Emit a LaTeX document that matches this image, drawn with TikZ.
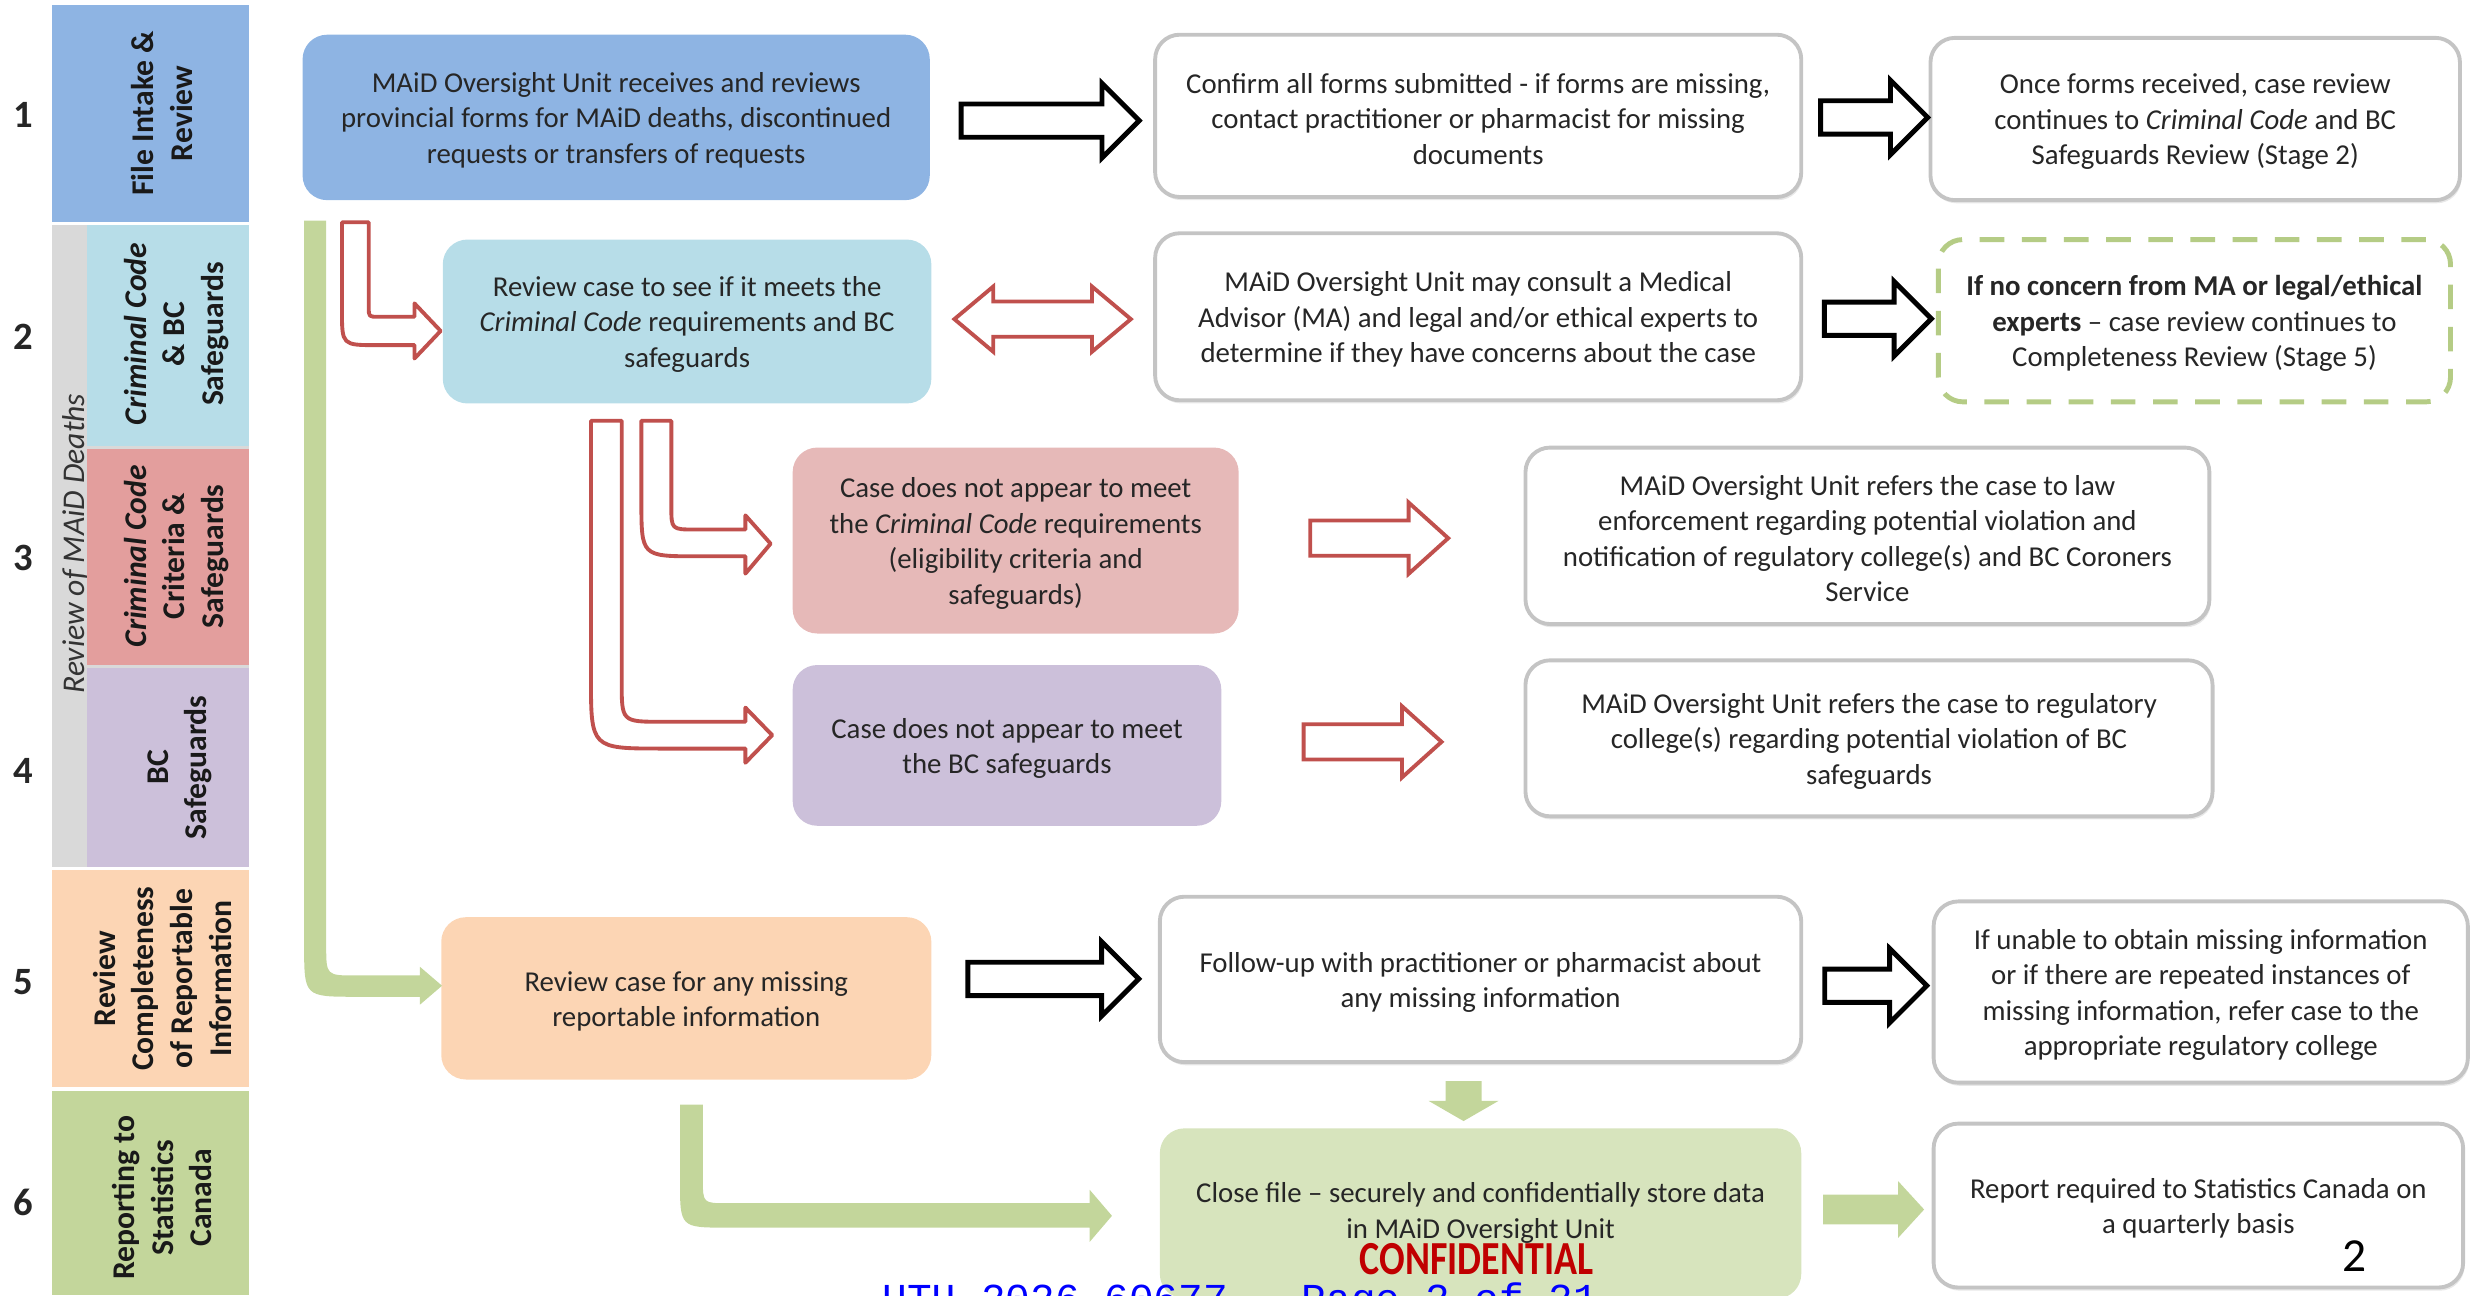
\documentclass[tikz,border=0pt]{standalone}
\usepackage{fontspec}
\setmainfont{Carlito}
\newfontfamily\uthfont{Liberation Mono}
\newfontfamily\narrowfont[FakeStretch=0.8]{Carlito}
\usetikzlibrary{shapes.arrows, positioning, calc, fit, shadows}

\definecolor{intakeblue}{HTML}{8EB4E3}
\definecolor{codeblue}{HTML}{B7DDE8}
\definecolor{lanepink}{HTML}{E39E9D}
\definecolor{casepink}{HTML}{E6B9B8}
\definecolor{bclilac}{HTML}{CCC0DA}
\definecolor{peach}{HTML}{FCD5B4}
\definecolor{lanegreen}{HTML}{C3D69B}
\definecolor{closegreen}{HTML}{D7E4BD}
\definecolor{arrowgreen}{HTML}{C3D69B}
\definecolor{dashgreen}{HTML}{B5CC85}
\definecolor{stripgrey}{HTML}{D9D9D9}
\definecolor{boxgrey}{HTML}{C4C4C4}
\definecolor{redline}{HTML}{C0504D}
\definecolor{confred}{HTML}{C00000}

\begin{document}
\begin{tikzpicture}[x=0.01576cm, y=-0.01576cm, font=\fontsize{8.2}{10.1}\selectfont,
  stepbox/.style={rounded corners=7pt, inner sep=0pt},
  boxtext/.style={align=center, inner sep=0pt, text=black!85, yshift=-0.8pt},
  whitebox/.style={stepbox, draw=boxgrey, line width=1.1pt, fill=white,
    drop shadow={opacity=0.18, shadow xshift=0.4pt, shadow yshift=-0.9pt}},
  dashbox/.style={stepbox, draw=dashgreen, line width=1.4pt, dash pattern=on 7pt off 5pt, fill=white},
  lanetext/.style={rotate=90, align=center, inner sep=0pt, font=\bfseries\fontsize{9}{11}\selectfont, text=black!90},
  stagenum/.style={font=\bfseries\fontsize{11}{13}\selectfont, text=black!85},
  arrowbase/.style={inner xsep=0pt, text height=0pt, text depth=0pt},
  blockarrow/.style={single arrow, arrowbase, draw=black, line width=1.4pt, fill=white,
    inner ysep=0.142cm, single arrow head extend=0.205cm},
  redarrow/.style={single arrow, arrowbase, draw=redline, line width=1.1pt, fill=white,
    inner ysep=0.157cm, minimum height=1.38cm, single arrow head extend=0.18cm, single arrow tip angle=84},
  bentred/.style={draw=redline, line width=1.1pt, fill=white, line join=round},
  greenarrow/.style={single arrow, arrowbase, fill=arrowgreen}]
\useasboundingbox (0,0) rectangle (1568,822);

% Stage lanes
\fill[stripgrey] (33,143) rectangle (158,550);
\node[rotate=90, inner sep=0pt, font=\itshape\fontsize{9}{11}\selectfont, text=black!80] (reviewlane) at (48,345) {Review of MAiD Deaths};
\fill[intakeblue] (33,3) rectangle (158,141);
\fill[codeblue] (55,143) rectangle (158,283);
\fill[lanepink] (55,285) rectangle (158,422);
\fill[bclilac] (55,424) rectangle (158,550);
\fill[peach] (33,552) rectangle (158,690);
\fill[lanegreen] (33,692) rectangle (158,822);
\node[lanetext] (lane1) at (103,72) {File Intake \&\\Review};
\node[lanetext] (lane2) at (112,212) {\textit{Criminal Code}\\\& BC\\Safeguards};
\node[lanetext] (lane3) at (112,353) {\textit{Criminal Code}\\Criteria \&\\Safeguards};
\node[lanetext] (lane4) at (114,487) {BC\\Safeguards};
\node[lanetext] (lane5) at (103,621) {Review\\Completeness\\of Reportable\\Information};
\node[lanetext] (lane6) at (103,760) {Reporting to\\Statistics\\Canada};

% Stage numbers
\node[stagenum] (num1) at (15,73) {1};
\node[stagenum] (num2) at (15,214) {2};
\node[stagenum] (num3) at (15,354) {3};
\node[stagenum] (num4) at (15,489) {4};
\node[stagenum] (num5) at (15,623) {5};
\node[stagenum] (num6) at (15,763) {6};

% Stage 1
\node[stepbox, fill=intakeblue, fit={(192,22) (590,127)},
  label={[boxtext]center:{MAiD Oversight Unit receives and reviews\\provincial forms for MAiD deaths, discontinued\\requests or transfers of requests}}] (intake) {};
\node[whitebox, fit={(733,22) (1143,125)},
  label={[boxtext]center:{Confirm all forms submitted - if forms are missing,\\contact practitioner or pharmacist for missing\\documents}}] (confirm) {};
\node[whitebox, fit={(1225,24) (1561,127)},
  label={[boxtext]center:{Once forms received, case review\\continues to \textit{Criminal Code} and BC\\Safeguards Review (Stage 2)}}] (received) {};

% Stage 2
\node[stepbox, fill=codeblue, fit={(281,152) (591,256)},
  label={[boxtext]center:{Review case to see if it meets the\\\textit{Criminal Code} requirements and BC\\safeguards}}] (review) {};
\node[whitebox, fit={(733,148) (1143,254)},
  label={[boxtext]center:{MAiD Oversight Unit may consult a Medical\\Advisor (MA) and legal and/or ethical experts to\\determine if they have concerns about the case}}] (consult) {};
\node[dashbox, fit={(1230,152) (1555,255)},
  label={[boxtext]center:{\textbf{If no concern from MA or legal/ethical}\\\textbf{experts} -- case review continues to\\Completeness Review (Stage 5)}}] (noconcern) {};

% Stage 3 and 4
\node[stepbox, fill=casepink, fit={(503,284) (786,402)},
  label={[boxtext]center:{Case does not appear to meet\\the \textit{Criminal Code} requirements\\(eligibility criteria and\\safeguards)}}] (notcode) {};
\node[whitebox, fit={(968,284) (1402,396)},
  label={[boxtext]center:{MAiD Oversight Unit refers the case to law\\enforcement regarding potential violation and\\notification of regulatory college(s) and BC Coroners\\Service}}] (lawref) {};
\node[stepbox, fill=bclilac, fit={(503,422) (775,524)},
  label={[boxtext]center:{Case does not appear to meet\\the BC safeguards}}] (notbc) {};
\node[whitebox, fit={(968,419) (1404,518)},
  label={[boxtext]center:{MAiD Oversight Unit refers the case to regulatory\\college(s) regarding potential violation of BC\\safeguards}}] (collegeref) {};

% Stage 5
\node[stepbox, fill=peach, fit={(280,582) (591,685)},
  label={[boxtext]center:{Review case for any missing\\reportable information}}] (missing) {};
\node[whitebox, fit={(736,569) (1143,674)},
  label={[boxtext]center:{Follow-up with practitioner or pharmacist about\\any missing information}}] (followup) {};
\node[whitebox, fit={(1227,572) (1566,687)},
  label={[boxtext]center:{If unable to obtain missing information\\or if there are repeated instances of\\missing information, refer case to the\\appropriate regulatory college}}] (unable) {};

% Stage 6
\node[stepbox, fill=closegreen, fit={(736,716) (1143,824)},
  label={[boxtext, yshift=1pt]center:{Close file -- securely and confidentially store data\\in MAiD Oversight Unit}}] (closefile) {};
\node[whitebox, fit={(1227,713) (1563,817)},
  label={[boxtext]center:{Report required to Statistics Canada on\\a quarterly basis}}] (statscan) {};

% Straight block arrows
\node[blockarrow, minimum height=1.78cm, yshift=-0.04cm] (a12) at ($(intake.east)!0.5!(confirm.west)$) {};
\node[blockarrow, minimum height=1.07cm] (a13) at ($(confirm.east)!0.5!(received.west)$) {};
\node[double arrow, arrowbase, draw=redline, line width=1.1pt, fill=white, inner ysep=0.157cm,
  minimum height=1.765cm, double arrow head extend=0.15cm, double arrow tip angle=80] (a22) at ($(review.east)!0.5!(consult.west)$) {};
\node[blockarrow, minimum height=1.07cm] (a23) at ($(consult.east)!0.5!(noconcern.west)$) {};
\node[redarrow, xshift=-0.12cm] (a32) at ($(notcode.east)!0.5!(lawref.west)$) {};
\node[redarrow, xshift=-0.1cm] (a42) at ($(notbc.east)!0.5!(collegeref.west)$) {};
\node[blockarrow, minimum height=1.71cm, yshift=0.1cm] (a52) at ($(missing.east)!0.5!(followup.west)$) {};
\node[blockarrow, minimum height=1.02cm] (a53) at ($(followup.east)!0.5!(unable.west)$) {};
\node[greenarrow, xshift=-0.17cm, rotate=-90, minimum height=0.40cm, inner ysep=0.173cm, single arrow head extend=0.17cm,
  single arrow tip angle=120] (a56) at ($(followup.south)!0.5!(closefile.north)$) {};
\node[greenarrow, minimum height=1.01cm, inner ysep=0.142cm, single arrow head extend=0.134cm,
  single arrow tip angle=95] (a62) at ($(closefile.east)!0.5!(statscan.west)$) {};

% Bent arrows
\draw[bentred] (217,141) -- (217,197) .. controls (217,219) .. (239,219) -- (263,219) -- (263,227.5)
  -- (279.6,210) -- (263,192.5) -- (263,201) -- (240,201) .. controls (234,201) .. (234,195) -- (234,141) -- cycle;
\draw[bentred] (407,267) -- (407,318) .. controls (407,353) .. (442,353) -- (473,353) -- (473,364)
  -- (489,345) -- (473,327) -- (473,336) -- (441,336) .. controls (426,336) .. (426,321) -- (426,267) -- cycle;
\draw[bentred] (375,267) -- (375,430) .. controls (375,475) .. (420,475) -- (473,475) -- (473,484)
  -- (490,466.5) -- (473,449) -- (473,458) -- (420,458) .. controls (394.5,458) .. (394.5,432.5) -- (394.5,267) -- cycle;
\fill[arrowgreen] (193,140) -- (193,600) .. controls (193,632.5) .. (226,632.5) -- (266.5,632.5) -- (266.5,637.5)
  -- (280.5,625.5) -- (266.5,613.5) -- (266.5,619) -- (226,619) .. controls (207,619) .. (207,600) -- (207,140) -- cycle;
\fill[arrowgreen] (431.5,701) -- (431.5,749) .. controls (431.5,779) .. (461.5,779) -- (691.5,779) -- (691.5,788)
  -- (705.6,771.5) -- (691.5,755) -- (691.5,763.5) -- (461.5,763.5) .. controls (446,763.5) .. (446,748) -- (446,701) -- cycle;

% Page footer
\node[font=\narrowfont\bfseries\fontsize{13.5}{15}\selectfont, text=confred] (confidential) at (937,799) {CONFIDENTIAL};
\node[font=\fontsize{13.5}{16}\selectfont] (pagenum) at (1494,797) {2};
\node[anchor=base, font=\uthfont\fontsize{11.7}{14}\selectfont, text=blue] (uth) at (787,833) {UTH-2026-60677 - Page 2 of 21};
\end{tikzpicture}
\end{document}
